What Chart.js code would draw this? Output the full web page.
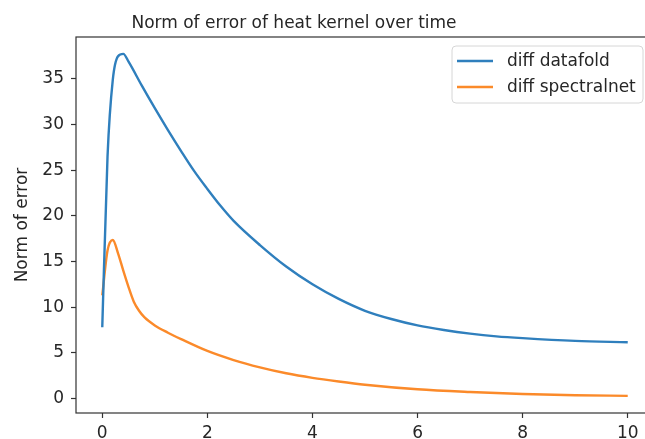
<!DOCTYPE html>
<html>
<head>
<meta charset="utf-8">
<title>Norm of error of heat kernel over time</title>
<script src="https://cdn.jsdelivr.net/npm/chart.js@4.4.0/dist/chart.umd.min.js"></script>
<style>
  html, body { margin: 0; padding: 0; background: #fff; overflow: hidden; }
  #wrap { position: absolute; left: 0; top: 0; width: 660px; height: 439px; }
</style>
</head>
<body>
<div id="wrap"><canvas id="chart" width="660" height="439"></canvas></div>
<script>
// values
const datafoldX = [0, 0.1, 0.2, 0.3, 0.4, 0.5, 0.75, 1.0, 1.25, 1.5, 1.75, 2.0, 2.25, 2.5, 3.0, 3.5, 4.0, 4.5, 5.0, 5.5, 6.0, 6.5, 7.0, 7.5, 8.0, 9.0, 10.0];
const datafoldY = [7.8, 26.5, 34.9, 37.5, 37.75, 36.9, 34.3, 31.8, 29.4, 27.1, 24.9, 22.95, 21.1, 19.45, 16.8, 14.45, 12.5, 10.9, 9.6, 8.7, 8.0, 7.5, 7.1, 6.8, 6.6, 6.3, 6.15];

const spectralX = [0, 0.1, 0.2, 0.3, 0.4, 0.5, 0.6, 0.7, 0.8, 1.0, 1.25, 1.5, 2.0, 2.5, 3.0, 3.5, 4.0, 4.5, 5.0, 6.0, 7.0, 8.0, 9.0, 10.0];
const spectralY = [11.3, 16.2, 17.35, 15.9, 14.0, 12.2, 10.6, 9.6, 8.9, 8.0, 7.2, 6.5, 5.2, 4.2, 3.4, 2.75, 2.25, 1.85, 1.5, 1.0, 0.7, 0.48, 0.35, 0.28];

const seriesNames = ['diff datafold', 'diff spectralnet'];
const xTicks = [0, 2, 4, 6, 8, 10];
const yTicks = [0, 5, 10, 15, 20, 25, 30, 35];

const FONT = '"DejaVu Sans", "Liberation Sans", sans-serif';
const FONT_SIZE = 17;
const TEXT = '#262626';

function toPoints(xs, ys) {
    return xs.map((x, i) => ({x: x, y: ys[i]}));
}

// spines, title and legend box, drawn like matplotlib does
const mplFrame = {
    id: 'mplFrame',
    afterDatasetsDraw(chart) {
        const ctx = chart.ctx;
        const a = chart.chartArea;
        ctx.save();
        ctx.strokeStyle = '#333';
        ctx.lineWidth = 1.2;
        ctx.strokeRect(a.left, a.top, a.right - a.left, a.bottom - a.top);

        // title
        ctx.fillStyle = TEXT;
        ctx.font = FONT_SIZE + 'px ' + FONT;
        ctx.textAlign = 'center';
        ctx.textBaseline = 'alphabetic';
        ctx.fillText('Norm of error of heat kernel over time', 294, 28);

        // legend
        const bx = 452, by = 46, bw = 191, bh = 57, r = 4;
        ctx.beginPath();
        ctx.moveTo(bx + r, by);
        ctx.arcTo(bx + bw, by, bx + bw, by + bh, r);
        ctx.arcTo(bx + bw, by + bh, bx, by + bh, r);
        ctx.arcTo(bx, by + bh, bx, by, r);
        ctx.arcTo(bx, by, bx + bw, by, r);
        ctx.closePath();
        ctx.fillStyle = 'rgba(255,255,255,0.8)';
        ctx.fill();
        ctx.strokeStyle = '#d6d6d6';
        ctx.lineWidth = 1;
        ctx.stroke();

        chart.data.datasets.forEach((ds, i) => {
            const y = 61 + i * 26;
            ctx.strokeStyle = ds.borderColor;
            ctx.lineWidth = 2.4;
            ctx.beginPath();
            ctx.moveTo(457, y);
            ctx.lineTo(493, y);
            ctx.stroke();
            ctx.fillStyle = TEXT;
            ctx.textAlign = 'left';
            ctx.textBaseline = 'middle';
            ctx.fillText(ds.label, 507, y + 0.5);
        });
        ctx.restore();
    }
};

function createChart() {
    const ctx = document.getElementById('chart').getContext('2d');
    new Chart(ctx, {
        type: 'line',
        data: {
            datasets: [{
                label: seriesNames[0],
                data: toPoints(datafoldX, datafoldY),
                borderColor: '#2f7fbd',
                borderWidth: 2.4,
                pointRadius: 0,
                cubicInterpolationMode: 'monotone',
                fill: false
            }, {
                label: seriesNames[1],
                data: toPoints(spectralX, spectralY),
                borderColor: '#fb8a2a',
                borderWidth: 2.4,
                pointRadius: 0,
                cubicInterpolationMode: 'monotone',
                fill: false
            }]
        },
        options: {
            responsive: false,
            animation: false,
            layout: {
                padding: {top: 37, right: 6, left: 0, bottom: 0}
            },
            plugins: {
                legend: {display: false},
                title: {display: false},
                tooltip: {enabled: false}
            },
            scales: {
                x: {
                    type: 'linear',
                    min: -0.5,
                    max: 10.5,
                    afterBuildTicks: s => { s.ticks = xTicks.map(v => ({value: v})); },
                    afterFit: s => { s.height = 26; },
                    border: {display: false},
                    grid: {drawOnChartArea: false, tickLength: 5, tickColor: '#333', tickWidth: 1.2},
                    ticks: {padding: 5, color: TEXT, maxRotation: 0, autoSkip: false,
                            font: {family: FONT, size: FONT_SIZE}}
                },
                y: {
                    min: -1.6,
                    max: 39.6,
                    afterBuildTicks: s => { s.ticks = yTicks.map(v => ({value: v})); },
                    afterFit: s => { s.width = 76; },
                    border: {display: false},
                    grid: {drawOnChartArea: false, tickLength: 5, tickColor: '#333', tickWidth: 1.2},
                    ticks: {padding: 7, color: TEXT, autoSkip: false,
                            font: {family: FONT, size: FONT_SIZE}},
                    title: {
                        display: true,
                        text: 'Norm of error',
                        color: TEXT,
                        padding: {top: 12, bottom: 0},
                        font: {family: FONT, size: FONT_SIZE}
                    }
                }
            }
        },
        plugins: [mplFrame]
    });
}

document.addEventListener('DOMContentLoaded', createChart);
</script>
</body>
</html>
